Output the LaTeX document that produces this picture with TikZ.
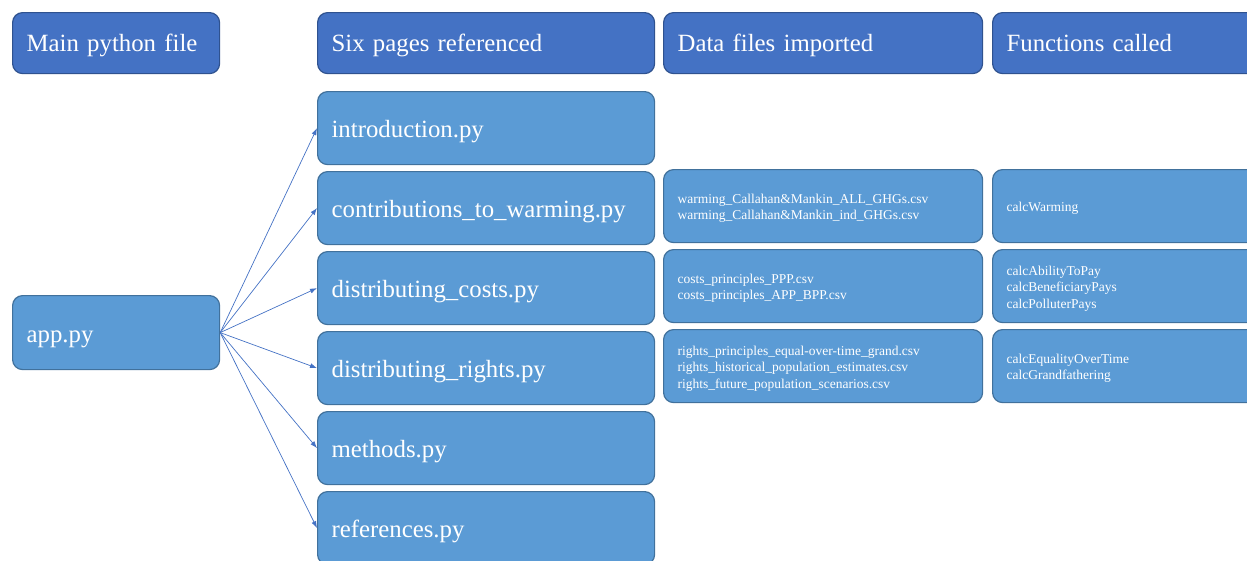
\documentclass[tikz,border=0pt]{standalone}
\usepackage{fontspec}
\setmainfont{Liberation Serif}[WordSpace=0.65]
\usetikzlibrary{arrows.meta}
\definecolor{headfill}{HTML}{4472C4}
\definecolor{headline}{HTML}{2F528F}
\definecolor{boxfill}{HTML}{5B9BD5}
\definecolor{boxline}{HTML}{41719C}
\definecolor{arrowcol}{HTML}{4472C4}
\tikzset{
  basebox/.style={draw, line width=1.2pt, rounded corners=10pt, anchor=north west,
    inner xsep=14pt, inner ysep=0pt, align=left, text=white},
  headbox/.style={basebox, fill=headfill, draw=headline, minimum height=61pt,
    text height=19pt, text depth=2pt, font=\fontsize{24.8}{30}\selectfont},
  pagebox/.style={basebox, fill=boxfill, draw=boxline, minimum height=73pt,
    text width=309pt, text height=20.4pt, text depth=2pt,
    font=\fontsize{24.8}{30}\selectfont},
  listbox/.style={basebox, fill=boxfill, draw=boxline, minimum height=73pt,
    text width=291pt, font=\fontsize{13.5}{16.6}\selectfont},
  oneline/.style={text height=12pt, text depth=1pt},
  twolines/.style={text height=10pt, text depth=15.6pt},
  threelines/.style={text height=10pt, text depth=32.2pt},
  link/.style={draw=arrowcol, line width=0.7pt, -{Latex[length=7pt,width=5pt]}}
}
\begin{document}
\begin{tikzpicture}[x=1pt, y=-1pt]
  \useasboundingbox (0,0) rectangle (1247,560);
  \clip (0,0) rectangle (1247,560);

  % column headings
  \node[headbox, text width=179pt] (hmain) at (12,12) {Main python file};
  \node[headbox, text width=309pt] (hpages) at (317,12) {Six pages referenced};
  \node[headbox, text width=291pt] (hdata) at (663,12) {Data files imported};
  \node[headbox, text width=291pt] (hfunc) at (992,12) {Functions called};

  % main file
  \node[pagebox, text width=179pt, minimum height=74pt, text height=22pt]
    (app) at (12,295) {app.py};

  % pages
  \node[pagebox] (intro) at (317,91) {introduction.py};
  \node[pagebox] (contrib) at (317,171) {contributions\_to\_warming.py};
  \node[pagebox] (costs) at (317,251) {distributing\_costs.py};
  \node[pagebox] (rights) at (317,331) {distributing\_rights.py};
  \node[pagebox] (methods) at (317,411) {methods.py};
  \node[pagebox] (refs) at (317,491) {references.py};

  % data files
  \node[listbox, twolines] (dwarm) at (663,169)
    {warming\_Callahan\&Mankin\_ALL\_GHGs.csv\\warming\_Callahan\&Mankin\_ind\_GHGs.csv};
  \node[listbox, twolines] (dcost) at (663,249)
    {costs\_principles\_PPP.csv\\costs\_principles\_APP\_BPP.csv};
  \node[listbox, threelines] (dright) at (663,329)
    {rights\_principles\_equal-over-time\_grand.csv\\rights\_historical\_population\_estimates.csv\\rights\_future\_population\_scenarios.csv};

  % functions
  \node[listbox, oneline] (fwarm) at (992,169) {calcWarming};
  \node[listbox, threelines] (fcost) at (992,249)
    {calcAbilityToPay\\calcBeneficiaryPays\\calcPolluterPays};
  \node[listbox, twolines] (fright) at (992,329)
    {calcEqualityOverTime\\calcGrandfathering};

  % links from the main file to each page
  \foreach \p in {intro,contrib,costs,rights,methods,refs}
    \draw[link] (app.east) -- (\p.west);
\end{tikzpicture}
\end{document}
